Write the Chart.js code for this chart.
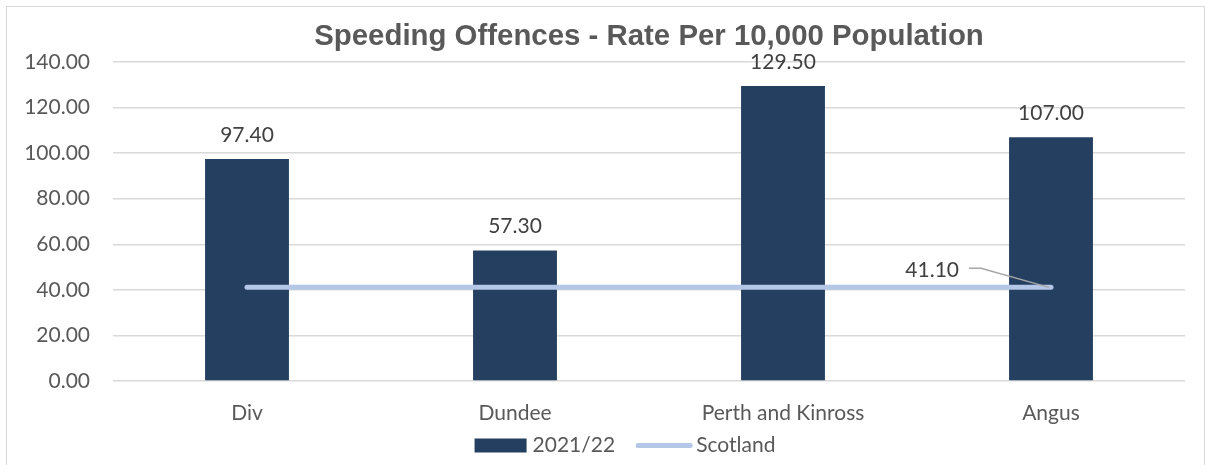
<!DOCTYPE html>
<html>
<head>
<meta charset="utf-8">
<script src="https://cdn.jsdelivr.net/npm/chart.js@4.4.1/dist/chart.umd.min.js"></script>
<style>
    body { margin: 0; background: #fff; }
    #wrap { position: relative; width: 1205px; height: 465px; overflow: hidden; }
    #frame { position: absolute; left: 6px; top: 6px; width: 1197px; height: 470px; border: 1px solid #d9d9d9; pointer-events: none; }
</style>
</head>
<body>
<div id="wrap">
    <canvas id="grafica" width="1205" height="465"></canvas>
    <div id="frame"></div>
</div>
<script>
const areas = ['Div', 'Dundee', 'Perth and Kinross', 'Angus'];
const rate2122 = [97.40, 57.30, 129.50, 107.00];
const scotland = [41.10, 41.10, 41.10, 41.10];
const seriesNames = ['2021/22', 'Scotland'];
const chartTitle = 'Speeding Offences - Rate Per 10,000 Population';

const navy = '#243f60';
const lightBlue = '#b4c7e7';
const grey = '#595959';

Chart.defaults.font.family = 'Lato';

// titulo centrado sobre el area del grafico
const titlePlugin = {
    id: 'titleOverArea',
    afterDraw: (chart) => {
        const ctx = chart.ctx;
        const area = chart.chartArea;
        ctx.save();
        ctx.font = 'bold 29.4px "Liberation Sans"';
        ctx.fillStyle = grey;
        ctx.textAlign = 'center';
        ctx.textBaseline = 'middle';
        ctx.fillText(chartTitle, (area.left + area.right) / 2, 37);
        ctx.restore();
    }
};

// leyenda abajo, como en Excel
const legendPlugin = {
    id: 'excelLegend',
    afterDraw: (chart) => {
        const ctx = chart.ctx;
        ctx.save();
        ctx.font = '21px Lato';
        const w1 = ctx.measureText(seriesNames[0]).width;
        const w2 = ctx.measureText(seriesNames[1]).width;
        const total = 52 + 6 + w1 + 21 + 56 + 4 + w2;
        let x = 625 - total / 2;
        const y = 445.5;
        ctx.fillStyle = navy;
        ctx.fillRect(x, y - 7, 52, 14);
        x += 58;
        ctx.fillStyle = grey;
        ctx.textBaseline = 'middle';
        ctx.textAlign = 'left';
        ctx.fillText(seriesNames[0], x, y);
        x += w1 + 21;
        ctx.strokeStyle = lightBlue;
        ctx.lineWidth = 5;
        ctx.lineCap = 'round';
        ctx.beginPath();
        ctx.moveTo(x + 2, y);
        ctx.lineTo(x + 54, y);
        ctx.stroke();
        x += 60;
        ctx.fillText(seriesNames[1], x, y);
        ctx.restore();
    }
};

// etiquetas de valores
const labelsPlugin = {
    id: 'valueLabels',
    afterDatasetsDraw: (chart) => {
        const ctx = chart.ctx;
        ctx.save();
        ctx.font = '21px Lato';
        ctx.fillStyle = '#404040';
        ctx.textAlign = 'center';
        ctx.textBaseline = 'alphabetic';
        chart.getDatasetMeta(0).data.forEach((bar, i) => {
            ctx.fillText(rate2122[i].toFixed(2), bar.x, bar.y - 17);
        });
        const pts = chart.getDatasetMeta(1).data;
        const last = pts[pts.length - 1];
        const txt = scotland[scotland.length - 1].toFixed(2);
        ctx.textAlign = 'right';
        ctx.fillText(txt, last.x - 92, last.y - 10);
        ctx.strokeStyle = '#a6a6a6';
        ctx.lineWidth = 1.5;
        ctx.beginPath();
        ctx.moveTo(last.x - 82, last.y - 19);
        ctx.lineTo(last.x - 70, last.y - 19);
        ctx.lineTo(last.x - 2, last.y);
        ctx.stroke();
        ctx.restore();
    }
};

const ctx = document.getElementById('grafica').getContext('2d');

const grafica = new Chart(ctx, {
    type: 'bar',
    data: {
        labels: areas,
        datasets: [{
            type: 'bar',
            label: seriesNames[0],
            data: rate2122,
            backgroundColor: navy,
            borderWidth: 0,
            categoryPercentage: 1,
            barPercentage: 0.313,
            order: 1,
        }, {
            type: 'line',
            label: seriesNames[1],
            data: scotland,
            borderColor: lightBlue,
            backgroundColor: lightBlue,
            borderWidth: 5,
            borderCapStyle: 'round',
            pointRadius: 0,
            fill: false,
            order: 0,
        }]
    },
    options: {
        responsive: false,
        animation: false,
        layout: {
            padding: { top: 62, right: 20, bottom: 0, left: 0 }
        },
        scales: {
            x: {
                grid: { display: false },
                border: { display: false },
                ticks: { color: grey, font: { size: 21 }, padding: 12 },
                afterFit: (scale) => { scale.height = 84; }
            },
            y: {
                min: 0,
                max: 140,
                ticks: {
                    stepSize: 20,
                    color: grey,
                    font: { size: 21 },
                    padding: 23,
                    callback: (v) => Number(v).toFixed(2)
                },
                grid: { color: '#d9d9d9', lineWidth: 1.5, drawTicks: false },
                border: { display: false },
                afterFit: (scale) => { scale.width = 113; }
            }
        },
        plugins: {
            tooltip: { enabled: false },
            title: { display: false },
            legend: { display: false }
        }
    },
    plugins: [titlePlugin, labelsPlugin, legendPlugin]
});
</script>
</body>
</html>
